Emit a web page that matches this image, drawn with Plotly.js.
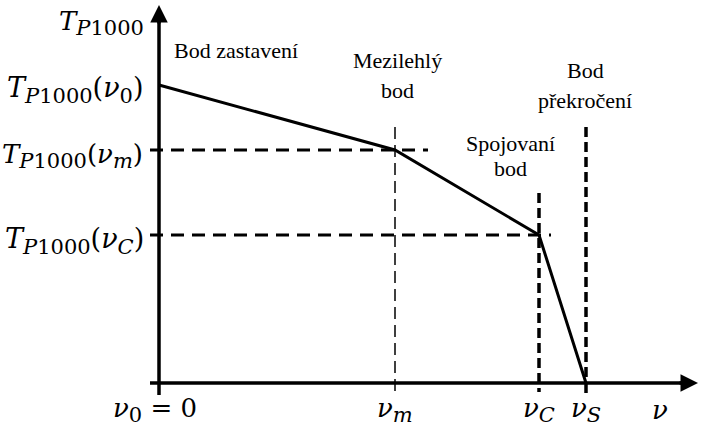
<!DOCTYPE html>
<html><head><meta charset="utf-8">
<script src="https://cdn.plot.ly/plotly-3.0.1.min.js"></script>
<style>html,body{margin:0;padding:0;background:#fff}</style>
</head><body>
<div id="chart" style="width:705px;height:432px"></div>
<script>
// Key points (arbitrary units)
const pointNames = ['ν0', 'νm', 'νC', 'νS'];
const nu = [0, 2.36, 3.80, 4.27];
const T  = [2.98, 2.33, 1.48, 0];
const S = s => '<sub><span style="font-size:21px">' + s + '</span></sub>';
const nuLabels = ['<i>ν</i>' + S('0') + ' = 0', '<i>ν</i>' + S('<i>m</i>'), '<i>ν</i>' + S('<i>C</i>'), '<i>ν</i>' + S('<i>S</i>'), '<i>ν</i>'];
const TLabels = ['<i>T</i>' + S('<i>P</i>1000'), '<i>T</i>' + S('<i>P</i>1000') + '(<i>ν</i>' + S('0') + ')', '<i>T</i>' + S('<i>P</i>1000') + '(<i>ν</i>' + S('<i>m</i>') + ')', '<i>T</i>' + S('<i>P</i>1000') + '(<i>ν</i>' + S('<i>C</i>') + ')'];
const pointTexts = [['Bod zastavení'], ['Mezilehlý', 'bod'], ['Spojovaní', 'bod'], ['Bod', 'překročení']];

const xMax = 5.39, yMax = 3.78;
const serif = "'Liberation Serif', 'Times New Roman', serif";
const mathFont = "'DejaVu Serif', serif";

const traces = [];
function line(x, y, w, dash) {
  traces.push({x: x, y: y, mode: 'lines', line: {color: '#000', width: w, dash: dash || 'solid'}, hoverinfo: 'skip', showlegend: false});
}
// axes
line([-0.09, xMax - 0.05], [0, 0], 3.5);
line([0, 0], [-0.12, yMax - 0.05], 3.5);
// dashed guides
line([-0.09, 2.69], [T[1], T[1]], 3, '13px,8px');
line([-0.09, 3.92], [T[2], T[2]], 3, '13px,8px');
line([nu[1], nu[1]], [2.56, -0.10], 1.5, '12px,6px');
line([nu[2], nu[2]], [1.90, -0.09], 3.5, '10px,5px');
line([nu[3], nu[3]], [2.56, 0], 3.5, '10px,5px');
line([nu[3], nu[3]], [0, -0.10], 3.5);
// main curve
line(nu, T, 3);

const ann = [];
// arrowheads
ann.push({x: xMax, y: 0, ax: xMax - 0.2, ay: 0, axref: 'x', ayref: 'y', xref: 'x', yref: 'y', text: '', showarrow: true, arrowhead: 2, arrowsize: 1, arrowwidth: 3.5, arrowcolor: '#000'});
ann.push({x: 0, y: yMax, ax: 0, ay: yMax - 0.2, axref: 'x', ayref: 'y', xref: 'x', yref: 'y', text: '', showarrow: true, arrowhead: 2, arrowsize: 1, arrowwidth: 3.5, arrowcolor: '#000'});

function txt(x, y, t, xa, size, fam) {
  ann.push({x: x, y: y, text: t, xref: 'x', yref: 'y', showarrow: false, xanchor: xa || 'center', yanchor: 'middle', font: {family: fam || serif, size: size || 22, color: '#000'}});
}
// y labels
txt(-0.13, 3.60, TLabels[0], 'right', 26, mathFont);
txt(-0.13, 2.93, TLabels[1], 'right', 27, mathFont);
txt(-0.14, 2.27, TLabels[2], 'right', 26, mathFont);
txt(-0.13, 1.42, TLabels[3], 'right', 27, mathFont);
// x labels
const xl = [-0.04, nu[1], nu[2], nu[3], 5.01];
xl.forEach((x, i) => txt(x, -0.27, nuLabels[i], 'center', 26, mathFont));
// point texts
txt(0.13, 3.33, pointTexts[0][0], 'left');
txt(2.38, 3.23, pointTexts[1][0]);
txt(2.38, 2.93, pointTexts[1][1]);
txt(3.51, 2.40, pointTexts[2][0]);
txt(3.51, 2.15, pointTexts[2][1]);
txt(4.26, 3.13, pointTexts[3][0]);
txt(4.26, 2.83, pointTexts[3][1]);

const layout = {
  width: 705, height: 432,
  margin: {l: 0, r: 0, t: 0, b: 0},
  paper_bgcolor: '#fff', plot_bgcolor: '#fff',
  xaxis: {range: [-1.59, 5.46], visible: false, fixedrange: true},
  yaxis: {range: [-0.49, 3.83], visible: false, fixedrange: true},
  annotations: ann, showlegend: false
};
Plotly.newPlot('chart', traces, layout, {displayModeBar: false, staticPlot: true});
</script>
</body></html>
